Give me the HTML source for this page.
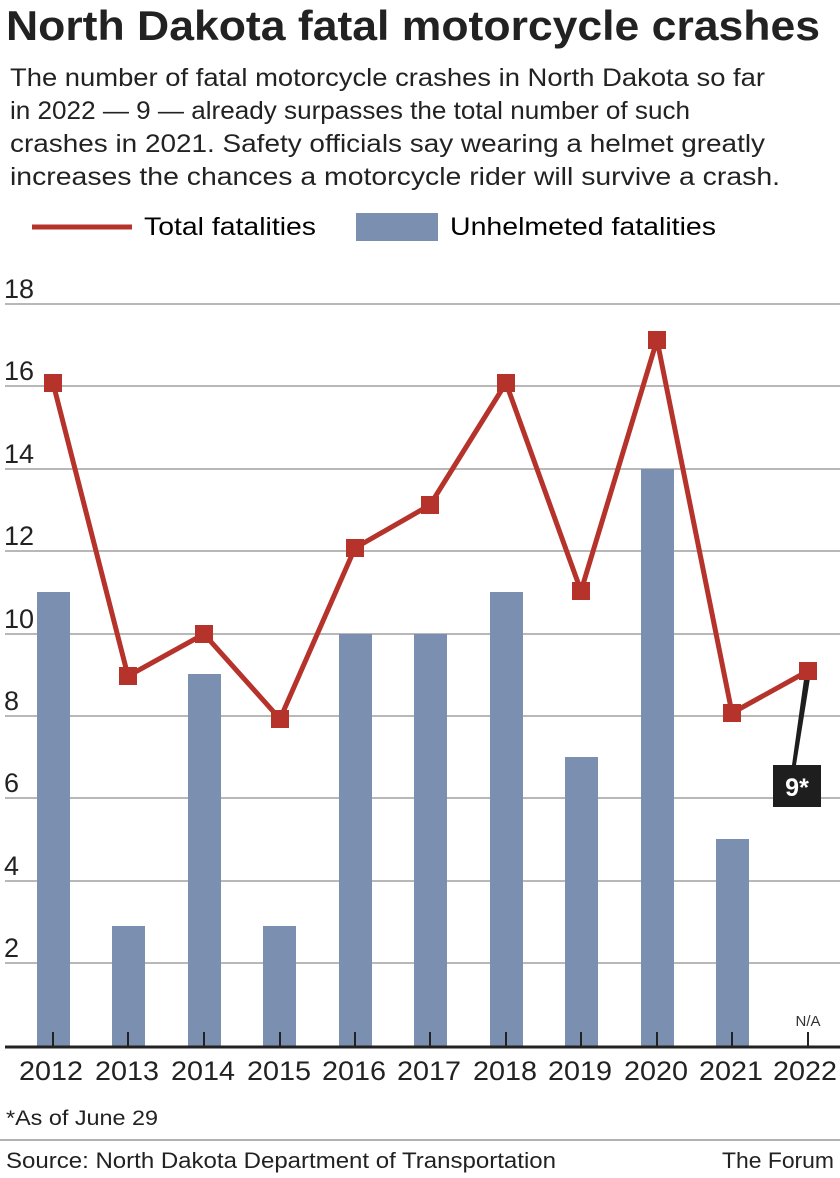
<!DOCTYPE html>
<html><head><meta charset="utf-8"><style>
body{margin:0;background:#fff;width:840px;height:1173px;overflow:hidden;font-family:"Liberation Sans",sans-serif;color:#222}
</style></head><body>
<svg width="840" height="1173" xmlns="http://www.w3.org/2000/svg" font-family="Liberation Sans, sans-serif">
<text x="6" y="40" font-size="42" font-weight="bold" fill="#222" textLength="814" lengthAdjust="spacingAndGlyphs">North Dakota fatal motorcycle crashes</text>
<g font-size="25" fill="#222">
<text x="10" y="86" textLength="755" lengthAdjust="spacingAndGlyphs">The number of fatal motorcycle crashes in North Dakota so far</text>
<text x="10" y="119" textLength="680" lengthAdjust="spacingAndGlyphs">in 2022 — 9 — already surpasses the total number of such</text>
<text x="10" y="152" textLength="755" lengthAdjust="spacingAndGlyphs">crashes in 2021. Safety officials say wearing a helmet greatly</text>
<text x="10" y="185" textLength="770" lengthAdjust="spacingAndGlyphs">increases the chances a motorcycle rider will survive a crash.</text>
</g>
<line x1="32" y1="227" x2="132" y2="227" stroke="#b5332a" stroke-width="5"/>
<text x="144" y="235" font-size="25" textLength="172" lengthAdjust="spacingAndGlyphs">Total fatalities</text>
<rect x="356" y="213" width="82" height="28" fill="#7b8fb0"/>
<text x="450" y="235" font-size="25" textLength="266" lengthAdjust="spacingAndGlyphs">Unhelmeted fatalities</text>
<g stroke="#b8b8b8" stroke-width="2">
<line x1="5" y1="304" x2="840" y2="304"/><line x1="5" y1="386" x2="840" y2="386"/>
<line x1="5" y1="469" x2="840" y2="469"/><line x1="5" y1="551" x2="840" y2="551"/>
<line x1="5" y1="634" x2="840" y2="634"/><line x1="5" y1="716" x2="840" y2="716"/>
<line x1="5" y1="798" x2="840" y2="798"/><line x1="5" y1="881" x2="840" y2="881"/>
<line x1="5" y1="963" x2="840" y2="963"/>
</g>
<g font-size="27" fill="#222">
<text x="4" y="298">18</text><text x="4" y="380">16</text><text x="4" y="463">14</text>
<text x="4" y="545">12</text><text x="4" y="628">10</text><text x="4" y="710">8</text>
<text x="4" y="792">6</text><text x="4" y="875">4</text><text x="4" y="957">2</text>
</g>
<g fill="#7b8fb0">
<rect x="37" y="592" width="33" height="455"/>
<rect x="112" y="926" width="33" height="121"/>
<rect x="188" y="674" width="33" height="373"/>
<rect x="263" y="926" width="33" height="121"/>
<rect x="339" y="634" width="33" height="413"/>
<rect x="414" y="634" width="33" height="413"/>
<rect x="490" y="592" width="33" height="455"/>
<rect x="565" y="757" width="33" height="290"/>
<rect x="641" y="469" width="33" height="578"/>
<rect x="716" y="839" width="33" height="208"/>
</g>
<text x="808" y="1026" font-size="15" text-anchor="middle" fill="#333">N/A</text>
<line x1="5" y1="1047" x2="840" y2="1047" stroke="#222" stroke-width="3"/>
<g stroke="#222" stroke-width="2">
<line x1="53" y1="1032" x2="53" y2="1047"/><line x1="128" y1="1032" x2="128" y2="1047"/>
<line x1="204" y1="1032" x2="204" y2="1047"/><line x1="280" y1="1032" x2="280" y2="1047"/>
<line x1="355" y1="1032" x2="355" y2="1047"/><line x1="430" y1="1032" x2="430" y2="1047"/>
<line x1="506" y1="1032" x2="506" y2="1047"/><line x1="581" y1="1032" x2="581" y2="1047"/>
<line x1="657" y1="1032" x2="657" y2="1047"/><line x1="732" y1="1032" x2="732" y2="1047"/>
<line x1="808" y1="1032" x2="808" y2="1047"/>
</g>
<g font-size="27" fill="#222" text-anchor="middle">
<text x="51" y="1080" textLength="64" lengthAdjust="spacingAndGlyphs">2012</text>
<text x="127" y="1080" textLength="64" lengthAdjust="spacingAndGlyphs">2013</text>
<text x="203" y="1080" textLength="64" lengthAdjust="spacingAndGlyphs">2014</text>
<text x="279" y="1080" textLength="64" lengthAdjust="spacingAndGlyphs">2015</text>
<text x="354" y="1080" textLength="64" lengthAdjust="spacingAndGlyphs">2016</text>
<text x="429" y="1080" textLength="64" lengthAdjust="spacingAndGlyphs">2017</text>
<text x="505" y="1080" textLength="64" lengthAdjust="spacingAndGlyphs">2018</text>
<text x="580" y="1080" textLength="64" lengthAdjust="spacingAndGlyphs">2019</text>
<text x="656" y="1080" textLength="64" lengthAdjust="spacingAndGlyphs">2020</text>
<text x="731" y="1080" textLength="64" lengthAdjust="spacingAndGlyphs">2021</text>
<text x="805" y="1080" textLength="64" lengthAdjust="spacingAndGlyphs">2022</text>
</g>
<polygon points="805,672 811,672 796,765 792,765" fill="#1e1e1e"/>
<rect x="773" y="765" width="48" height="42" fill="#1e1e1e"/>
<text x="797" y="796" font-size="25" font-weight="bold" fill="#fff" text-anchor="middle">9*</text>
<polyline points="53,383 128,676 204,634 280,719 355,548 430,505 506,383 581,591 657,340 732,713 808,671" fill="none" stroke="#b5332a" stroke-width="5" stroke-linejoin="round"/>
<g fill="#b5332a">
<rect x="44" y="374" width="18" height="18"/><rect x="119" y="667" width="18" height="18"/>
<rect x="195" y="625" width="18" height="18"/><rect x="271" y="710" width="18" height="18"/>
<rect x="346" y="539" width="18" height="18"/><rect x="421" y="496" width="18" height="18"/>
<rect x="497" y="374" width="18" height="18"/><rect x="572" y="582" width="18" height="18"/>
<rect x="648" y="331" width="18" height="18"/><rect x="723" y="704" width="18" height="18"/>
<rect x="799" y="662" width="18" height="18"/>
</g>
<text x="6" y="1125" font-size="21" fill="#222" textLength="152" lengthAdjust="spacingAndGlyphs">*As of June 29</text>
<line x1="0" y1="1140" x2="840" y2="1140" stroke="#999" stroke-width="1.5"/>
<text x="6" y="1168" font-size="22" fill="#222" textLength="550" lengthAdjust="spacingAndGlyphs">Source: North Dakota Department of Transportation</text>
<text x="834" y="1168" font-size="22" fill="#222" text-anchor="end" textLength="112" lengthAdjust="spacingAndGlyphs">The Forum</text>
</svg>
</body></html>
